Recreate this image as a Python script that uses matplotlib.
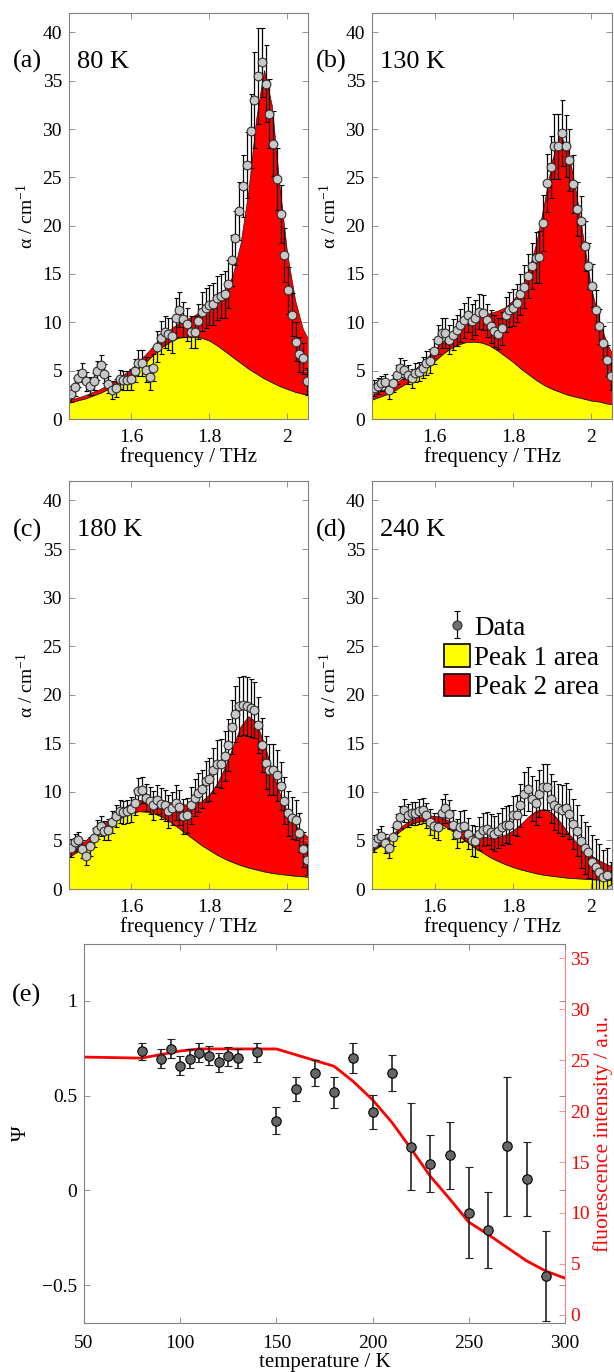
import matplotlib
matplotlib.use('Agg')
import matplotlib.pyplot as plt
import matplotlib.patches as mpatches
import numpy as np

plt.rcParams['font.family'] = ['Liberation Serif', 'DejaVu Serif']
plt.rcParams['mathtext.fontset'] = 'custom'
plt.rcParams['mathtext.rm'] = 'Liberation Serif'
plt.rcParams['mathtext.default'] = 'regular'

# frequency points of the measured spectra (THz)
freq = [1.445, 1.455, 1.464, 1.474, 1.483, 1.493, 1.503, 1.512, 1.522, 1.531,
        1.541, 1.551, 1.560, 1.570, 1.579, 1.589, 1.599, 1.608, 1.618, 1.627,
        1.637, 1.647, 1.656, 1.666, 1.675, 1.685, 1.695, 1.704, 1.714, 1.723,
        1.733, 1.743, 1.752, 1.762, 1.771, 1.781, 1.791, 1.800, 1.810, 1.819,
        1.829, 1.839, 1.848, 1.858, 1.867, 1.877, 1.887, 1.896, 1.906, 1.915,
        1.925, 1.935, 1.944, 1.954, 1.963, 1.973, 1.983, 1.992, 2.002, 2.011,
        2.021, 2.031, 2.040, 2.050]
# frequencies where the fitted areas were read
fit_freq = [1.44, 1.46, 1.48, 1.50, 1.52, 1.54, 1.56, 1.58, 1.60, 1.62, 1.64,
            1.66, 1.68, 1.70, 1.72, 1.74, 1.76, 1.78, 1.80, 1.82, 1.84, 1.86,
            1.88, 1.90, 1.92, 1.94, 1.96, 1.98, 2.00, 2.02, 2.04, 2.06]

# 80 K
alpha_80 = [2.6, 3.3, 4.2, 4.8, 3.9, 3.4, 3.9, 5.0, 5.6, 4.7,
            3.6, 3.0, 3.2, 4.1, 4.0, 4.0, 4.1, 5.0, 5.8, 5.8,
            5.1, 4.3, 5.3, 7.5, 8.4, 9.0, 8.8, 8.6, 10.5, 11.3,
            10.3, 9.8, 9.0, 9.0, 10.1, 11.1, 11.5, 11.8, 11.9, 12.5,
            12.7, 12.9, 14.0, 16.4, 18.7, 21.5, 24.1, 26.3, 29.8, 33.0,
            35.5, 36.9, 34.7, 31.6, 28.5, 24.8, 21.2, 17.0, 13.3, 10.8,
            8.0, 6.7, 6.3, 3.9]
err_80 = [0.8, 0.9, 0.9, 1.0, 1.0, 0.9, 0.9, 1.0, 1.0, 1.0,
          0.9, 0.9, 0.9, 1.0, 1.0, 1.0, 1.1, 1.2, 1.3, 1.3,
          1.3, 1.3, 1.4, 1.6, 1.7, 1.7, 1.7, 1.8, 2.0, 1.8,
          1.8, 1.7, 1.7, 1.7, 1.8, 2.0, 2.1, 2.1, 2.2, 2.3,
          2.3, 2.4, 2.5, 2.6, 2.8, 3.0, 3.2, 3.4, 3.8, 5.0,
          5.0, 3.6, 4.0, 3.6, 3.4, 3.2, 3.0, 2.8, 2.4, 2.2,
          2.0, 1.8, 1.6, 1.4]
peak1_80 = [1.7, 1.9, 2.1, 2.4, 2.7, 3.1, 3.5, 4.0, 4.6, 5.3, 6.0,
            6.8, 7.5, 8.0, 8.4, 8.5, 8.5, 8.4, 8.1, 7.6, 7.0, 6.4,
            5.8, 5.2, 4.7, 4.2, 3.8, 3.4, 3.1, 2.8, 2.6, 2.4]
total_80 = [2.0, 2.2, 2.45, 2.8, 3.1, 3.6, 4.0, 4.6, 5.25, 6.05, 6.85,
            7.75, 8.6, 9.3, 9.9, 10.3, 10.7, 11.2, 11.6, 12.1, 13.1, 14.9,
            18.2, 23.6, 31.1, 36.1, 32.5, 24.1, 17.0, 12.3, 9.3, 7.8]

# 130 K
alpha_130 = [3.2, 3.4, 3.7, 3.8, 3.0, 3.7, 4.6, 5.3, 5.1, 4.6,
             4.2, 4.8, 4.9, 5.3, 5.8, 6.0, 7.0, 8.2, 8.9, 8.9,
             8.2, 8.7, 9.2, 9.7, 10.2, 10.8, 10.1, 10.5, 11.1, 11.0,
             10.2, 9.6, 9.1, 8.8, 9.4, 10.8, 11.3, 11.5, 12.0, 12.9,
             13.7, 14.8, 15.8, 16.7, 16.8, 20.3, 24.4, 26.1, 28.2, 28.2,
             29.6, 28.2, 26.8, 24.3, 21.7, 20.5, 17.9, 15.8, 13.8, 11.3,
             9.6, 7.9, 6.1, 4.4]
err_130 = [0.8, 0.8, 0.8, 0.9, 0.9, 0.9, 1.0, 1.0, 1.0, 1.0,
           1.0, 1.0, 1.0, 1.1, 1.2, 1.2, 1.3, 1.5, 1.6, 1.6,
           1.5, 1.6, 1.6, 1.7, 1.8, 1.8, 1.8, 1.8, 1.8, 1.8,
           1.7, 1.7, 1.7, 1.6, 1.7, 1.8, 1.8, 1.9, 2.0, 2.1,
           2.2, 2.3, 2.4, 2.6, 2.7, 2.9, 3.0, 3.2, 3.4, 3.4,
           3.4, 3.2, 3.2, 3.0, 2.8, 2.6, 2.6, 2.4, 2.2, 2.0,
           1.8, 1.7, 1.6, 1.4]
peak1_130 = [2.0, 2.3, 2.6, 3.0, 3.5, 4.0, 4.6, 5.3, 6.0, 6.7, 7.3,
             7.7, 7.95, 8.0, 7.9, 7.6, 7.1, 6.5, 5.9, 5.2, 4.6, 4.0,
             3.5, 3.1, 2.8, 2.5, 2.3, 2.1, 1.9, 1.8, 1.6, 1.5]
total_130 = [2.5, 2.9, 3.25, 3.7, 4.3, 4.85, 5.55, 6.35, 7.2, 8.0, 8.8,
             9.45, 9.95, 10.35, 10.7, 10.95, 11.2, 11.55, 12.3, 13.4, 15.4, 18.3,
             22.4, 26.8, 29.4, 28.0, 23.7, 18.6, 13.5, 10.2, 7.8, 6.3]

# 180 K
alpha_180 = [4.2, 4.8, 5.0, 4.1, 3.4, 4.4, 5.3, 6.1, 6.5, 6.0,
             6.1, 6.9, 7.5, 8.0, 7.9, 8.0, 8.2, 8.9, 10.1, 10.2,
             9.4, 9.1, 8.6, 9.2, 8.8, 8.6, 8.0, 8.3, 8.9, 8.4,
             7.5, 7.6, 8.6, 9.4, 9.9, 10.3, 11.1, 11.3, 12.2, 12.9,
             12.9, 13.7, 14.8, 16.7, 18.0, 18.8, 18.9, 18.8, 18.6, 18.4,
             16.9, 14.8, 13.0, 12.3, 12.3, 11.7, 10.6, 9.1, 7.8, 7.3,
             7.1, 5.8, 4.1, 3.0]
err_180 = [0.9, 0.9, 0.9, 0.9, 0.9, 1.0, 1.0, 1.0, 1.0, 1.0,
           1.1, 1.1, 1.1, 1.2, 1.2, 1.2, 1.3, 1.3, 1.3, 1.3,
           1.4, 1.4, 1.5, 1.5, 1.6, 1.6, 1.7, 1.7, 1.8, 1.8,
           1.8, 1.8, 1.9, 1.9, 2.0, 2.0, 2.1, 2.2, 2.3, 2.4,
           2.5, 2.6, 2.7, 2.8, 2.9, 3.0, 3.0, 3.0, 3.0, 2.9,
           2.9, 2.8, 2.7, 2.6, 2.6, 2.6, 2.5, 2.4, 2.3, 2.2,
           2.1, 2.0, 1.8, 1.6]
peak1_180 = [3.3, 3.8, 4.4, 5.0, 5.7, 6.4, 7.0, 7.5, 7.85, 8.0, 7.95,
             7.75, 7.4, 6.9, 6.3, 5.7, 5.1, 4.5, 4.0, 3.5, 3.1, 2.75,
             2.45, 2.2, 2.0, 1.8, 1.65, 1.55, 1.45, 1.35, 1.3, 1.2]
total_180 = [3.75, 4.3, 4.95, 5.6, 6.35, 7.1, 7.8, 8.4, 8.85, 9.15, 9.25,
             9.25, 9.15, 8.95, 8.8, 8.7, 8.75, 9.05, 9.75, 10.9, 12.55, 14.65,
             16.75, 17.8, 17.2, 15.0, 12.35, 9.9, 7.95, 6.6, 5.8, 5.1]

# 240 K
alpha_240 = [4.7, 5.3, 5.5, 4.7, 4.2, 5.4, 6.6, 7.4, 8.1, 7.6,
             7.8, 7.8, 8.0, 8.1, 7.6, 6.9, 6.5, 6.4, 7.8, 8.3,
             7.7, 6.6, 5.7, 6.4, 6.5, 5.7, 5.0, 4.9, 5.7, 6.1,
             6.2, 5.9, 5.7, 6.0, 6.4, 6.6, 6.6, 7.6, 7.6, 8.6,
             9.8, 10.3, 9.3, 8.9, 9.8, 10.5, 10.5, 9.3, 8.6, 8.3,
             8.1, 8.3, 7.7, 6.7, 6.0, 4.9, 4.2, 3.8, 2.8, 2.3,
             1.8, 1.2, 1.4, 0.0]
err_240 = [0.9, 0.9, 1.0, 1.0, 1.0, 1.0, 1.1, 1.1, 1.2, 1.2,
           1.2, 1.2, 1.3, 1.3, 1.3, 1.3, 1.3, 1.4, 1.5, 1.5,
           1.5, 1.5, 1.5, 1.6, 1.6, 1.6, 1.6, 1.6, 1.7, 1.7,
           1.7, 1.8, 1.8, 1.8, 1.9, 1.9, 2.0, 2.0, 2.1, 2.2,
           2.2, 2.3, 2.3, 2.3, 2.4, 2.4, 2.4, 2.5, 2.5, 2.5,
           2.6, 2.6, 2.6, 2.6, 2.6, 2.7, 2.7, 2.7, 2.8, 2.8,
           2.8, 2.8, 2.8, 2.8]
peak1_240 = [3.9, 4.4, 5.0, 5.6, 6.2, 6.7, 6.95, 7.0, 6.9, 6.6, 6.1,
             5.5, 4.9, 4.3, 3.8, 3.3, 2.9, 2.55, 2.25, 2.0, 1.8, 1.6,
             1.45, 1.35, 1.25, 1.15, 1.1, 1.05, 1.0, 0.95, 0.9, 0.9]
total_240 = [4.15, 4.7, 5.35, 5.95, 6.6, 7.15, 7.45, 7.55, 7.55, 7.35, 6.95,
             6.45, 6.05, 5.65, 5.45, 5.3, 5.35, 5.6, 6.05, 6.7, 7.5, 8.1,
             8.25, 7.85, 6.95, 5.85, 4.9, 4.1, 3.45, 2.95, 2.55, 2.25]

# (e) order parameter and fluorescence vs temperature
temps = [80, 90, 95, 100, 105, 110, 115, 120, 125, 130, 140, 150, 160, 170,
         180, 190, 200, 210, 220, 230, 240, 250, 260, 270, 280, 290]
psi = [0.733, 0.695, 0.747, 0.658, 0.695, 0.725, 0.711, 0.676, 0.707, 0.698,
       0.728, 0.368, 0.535, 0.620, 0.517, 0.698, 0.414, 0.619, 0.230, 0.140,
       0.184, -0.118, -0.209, 0.233, 0.058, -0.454]
psi_err = [0.047, 0.05, 0.05, 0.05, 0.05, 0.05, 0.05, 0.05, 0.05, 0.05,
           0.05, 0.072, 0.065, 0.07, 0.08, 0.08, 0.088, 0.096, 0.229, 0.15,
           0.178, 0.24, 0.2, 0.367, 0.195, 0.237]
fl_temp = [50, 80, 100, 110, 150, 180, 190, 200, 210, 220, 230, 240, 250,
           260, 270, 280, 290, 300]
fl_int = [25.3, 25.2, 25.9, 26.1, 26.1, 24.4, 22.9, 21.1, 18.9, 16.3, 13.6,
          11.4, 9.1, 7.9, 6.6, 5.3, 4.3, 3.6]

W, H = 614, 1372
fig = plt.figure(figsize=(W / 100, H / 100), dpi=100)
grey = '#808080'


def box(x0, x1, y0, y1):
    return fig.add_axes([x0 / W, 1 - y1 / H, (x1 - x0) / W, (y1 - y0) / H])


def style(ax):
    for s in ax.spines.values():
        s.set_color(grey)
        s.set_linewidth(0.8)
    ax.tick_params(direction='in', length=4, width=0.6, color=grey,
                   labelsize=14, top=True, right=True, pad=5)
    ax.tick_params(axis='x', pad=7)


def spectrum(ax, alpha, err, peak1, total, tag, temp):
    ax.fill_between(fit_freq, peak1, total, facecolor='#ff0000',
                    edgecolor='black', linewidth=0.4)
    ax.fill_between(fit_freq, 0, peak1, facecolor='#ffff00',
                    edgecolor='black', linewidth=0.5)
    ax.errorbar(freq, alpha, yerr=err, fmt='o', ms=6.3, mfc='#c8c8c8',
                mec='#303030', mew=0.8, ecolor='black', elinewidth=0.9,
                capsize=1.8, capthick=0.9)
    ax.set_xlim(1.44, 2.053)
    ax.set_ylim(0, 42)
    ax.set_xticks([1.6, 1.8, 2.0])
    ax.set_xticklabels(['1.6', '1.8', '2'])
    ax.set_yticks(range(0, 41, 5))
    style(ax)
    ax.set_xlabel('frequency / THz', fontsize=15, labelpad=1)
    ax.set_ylabel(r'α / cm$^{-1}$', fontsize=14, labelpad=4)
    ax.text(-0.235, 0.88, tag, transform=ax.transAxes, fontsize=19,
            va='center', ha='left')
    ax.text(0.035, 0.88, temp, transform=ax.transAxes, fontsize=19,
            va='center', ha='left')


ax_a = box(69, 308, 13, 419)
ax_b = box(372, 612, 13, 419)
ax_c = box(69, 308, 481, 889)
ax_d = box(372, 612, 481, 889)
spectrum(ax_a, alpha_80, err_80, peak1_80, total_80, '(a)', '80 K')
spectrum(ax_b, alpha_130, err_130, peak1_130, total_130, '(b)', '130 K')
spectrum(ax_c, alpha_180, err_180, peak1_180, total_180, '(c)', '180 K')
spectrum(ax_d, alpha_240, err_240, peak1_240, total_240, '(d)', '240 K')

# legend in panel (d)
h_data = ax_d.errorbar([np.nan], [np.nan], yerr=[1], fmt='o', ms=6.5,
                       mfc='#707070', mec='#303030', mew=0.8, ecolor='black',
                       elinewidth=0.9, capsize=2.5, capthick=0.9)
h_p1 = mpatches.Patch(facecolor='#ffff00', edgecolor='black', linewidth=1.2)
h_p2 = mpatches.Patch(facecolor='#ff0000', edgecolor='black', linewidth=1.2)
ax_d.legend([h_data, h_p1, h_p2], ['Data', 'Peak 1 area', 'Peak 2 area'],
            loc='upper left', bbox_to_anchor=(0.255, 0.70), frameon=False,
            fontsize=19.5, handlelength=0.95, handleheight=0.9,
            handletextpad=0.15, labelspacing=0.12, borderaxespad=0)

# panel (e)
ax_e = box(84, 565, 944, 1323)
ax_f = ax_e.twinx()
ax_e.errorbar(temps, psi, yerr=psi_err, fmt='o', ms=6.8, mfc='#666666',
              mec='black', mew=0.8, ecolor='#222222', elinewidth=1.2,
              capsize=2.8, capthick=1.2)
ax_f.plot(fl_temp, fl_int, color='#ff0000', lw=2.0)
ax_e.set_zorder(ax_f.get_zorder() + 1)
ax_e.patch.set_visible(False)

ax_e.set_xlim(50, 300)
ax_e.set_ylim(-0.7, 1.3)
ax_e.set_xticks(range(50, 301, 50))
ax_e.set_yticks([-0.5, 0, 0.5, 1])
ax_e.set_yticklabels(['\u22120.5', '0', '0.5', '1'])
style(ax_e)
ax_e.tick_params(axis='x', pad=9)
ax_e.spines['right'].set_visible(False)
ax_e.set_xlabel('temperature / K', fontsize=15, labelpad=0)
ax_e.set_ylabel('Ψ', fontsize=15, labelpad=8)
ax_e.text(-0.15, 0.865, '(e)', transform=ax_e.transAxes, fontsize=19,
          va='center', ha='left')

ax_f.set_ylim(-0.8, 36.4)
ax_f.set_yticks(range(0, 36, 5))
for s in ['left', 'top', 'bottom']:
    ax_f.spines[s].set_visible(False)
ax_f.spines['right'].set_color('#ff8080')
ax_f.spines['right'].set_linewidth(0.8)
ax_f.tick_params(axis='y', direction='in', length=4, width=0.6,
                 color='#ff8080', labelcolor='#ff0000', labelsize=14, pad=4)
ax_f.set_ylabel('fluorescence intensity / a.u.', color='#ff0000',
                fontsize=15.5, labelpad=2)

fig.savefig('out.png', dpi=100)
